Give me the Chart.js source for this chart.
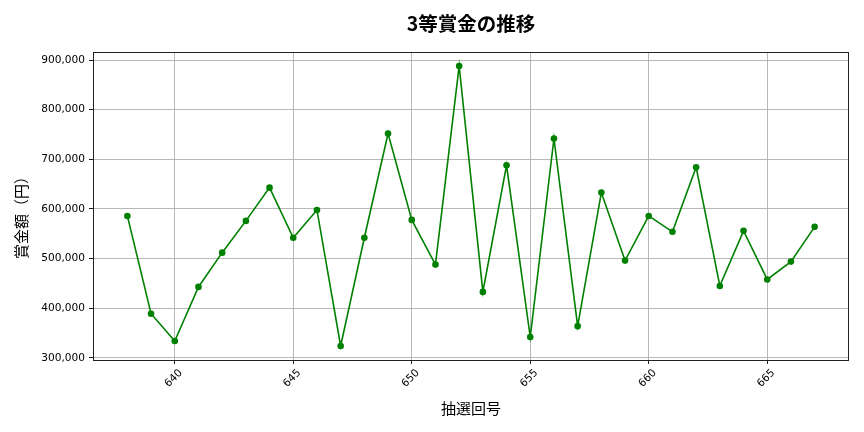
<!DOCTYPE html>
<html>
<head>
<meta charset="utf-8">
<script src="https://cdn.jsdelivr.net/npm/chart.js@4"></script>
<style>
  body { margin: 0; background: #fff; }
</style>
</head>
<body>
<canvas id="chart" width="864" height="432"></canvas>
<script>
//------------------------------------------- Data -------------------------------------------//
const rounds = [638, 639, 640, 641, 642, 643, 644, 645, 646, 647,
                648, 649, 650, 651, 652, 653, 654, 655, 656, 657,
                658, 659, 660, 661, 662, 663, 664, 665, 666, 667];
const prizes = [586000, 389000, 334000, 443000, 512000, 576000, 643000, 542000, 598000, 324000,
                542000, 752000, 578000, 488000, 888000, 433000, 688000, 342000, 742000, 364000,
                633000, 496000, 586000, 554000, 684000, 445000, 556000, 458000, 494000, 564000];
const x_ticks = [640, 645, 650, 655, 660, 665];
const y_ticks = [300000, 400000, 500000, 600000, 700000, 800000, 900000];

const chart_title = '3等賞金の推移';
const x_title = '抽選回号';
const y_title = '賞金額（円）';

//------------------------------------------- Settings -------------------------------------------//
const tick_font = 'DejaVu Sans';
const cjk_font = '"Noto Sans CJK JP"';
const line_color = '#008000';
const grid_color = '#b0b0b0';

// matplotlib style 5% margins around the data
const x_pad = (rounds[rounds.length - 1] - rounds[0]) * 0.05;
const y_pad = (Math.max(...prizes) - Math.min(...prizes)) * 0.05;

//------------------------------------------- Text plugin -------------------------------------------//
const textPlugin = {
    id: 'textPlugin',
    afterDraw(chart) {
        const ctx = chart.ctx;
        const area = chart.chartArea;
        const xs = chart.scales.x;
        const cx = (area.left + area.right) / 2;
        const cy = (area.top + area.bottom) / 2;

        ctx.save();
        // frame
        ctx.strokeStyle = '#222';
        ctx.lineWidth = 1;
        ctx.strokeRect(Math.round(area.left) + 0.5, Math.round(area.top) + 0.5,
                       Math.round(area.right - area.left) - 1, Math.round(area.bottom - area.top));

        // rotated x tick labels, centred under the tick
        ctx.fillStyle = '#000';
        ctx.font = '10.6px ' + tick_font;
        ctx.textAlign = 'center';
        ctx.textBaseline = 'middle';
        x_ticks.forEach(v => {
            ctx.save();
            ctx.translate(xs.getPixelForValue(v) - 1, area.bottom + 18.5);
            ctx.rotate(-Math.PI / 4);
            ctx.fillText(String(v), 0, 0);
            ctx.restore();
        });

        // title
        ctx.font = 'bold 19.5px ' + cjk_font;
        ctx.fillText(chart_title, cx, 24);

        // axis titles
        ctx.font = '15px ' + cjk_font;
        ctx.fillText(x_title, cx, 408);
        ctx.translate(21.5, cy + 8);
        ctx.rotate(-Math.PI / 2);
        ctx.fillText(y_title, 0, 0);
        ctx.restore();
    }
};

//------------------------------------------- Chart -------------------------------------------//
const ctx = document.getElementById('chart');
const chart = new Chart(ctx, {
    type: 'line',
    data: {
        datasets: [{
            data: rounds.map((r, i) => ({ x: r, y: prizes[i] })),
            borderColor: line_color,
            backgroundColor: line_color,
            borderWidth: 1.6,
            pointRadius: 3.3,
            pointBorderWidth: 0,
            pointBackgroundColor: line_color,
            tension: 0,
            fill: false
        }]
    },
    options: {
        responsive: false,
        animation: false,
        devicePixelRatio: 1,
        layout: {
            padding: { top: 52, right: 15, bottom: 0, left: 0 }
        },
        plugins: {
            legend: { display: false },
            title: { display: false },
            tooltip: { enabled: false }
        },
        scales: {
            x: {
                type: 'linear',
                min: rounds[0] - x_pad,
                max: rounds[rounds.length - 1] + x_pad,
                afterBuildTicks: scale => { scale.ticks = x_ticks.map(v => ({ value: v })); },
                afterFit: scale => { scale.height = 72; },
                grid: {
                    color: grid_color,
                    lineWidth: 0.9,
                    tickColor: '#000',
                    tickLength: 4,
                    tickWidth: 0.9
                },
                border: { display: false },
                ticks: { display: false }
            },
            y: {
                type: 'linear',
                min: Math.min(...prizes) - y_pad,
                max: Math.max(...prizes) + y_pad,
                afterBuildTicks: scale => { scale.ticks = y_ticks.map(v => ({ value: v })); },
                afterFit: scale => { scale.width = 93; },
                grid: {
                    color: grid_color,
                    lineWidth: 0.9,
                    tickColor: '#000',
                    tickLength: 4,
                    tickWidth: 0.9
                },
                border: { display: false },
                ticks: {
                    color: '#000',
                    padding: 4,
                    font: { family: tick_font, size: 10.6 },
                    callback: v => v.toLocaleString('en-US')
                }
            }
        }
    },
    plugins: [textPlugin]
});
</script>
</body>
</html>
